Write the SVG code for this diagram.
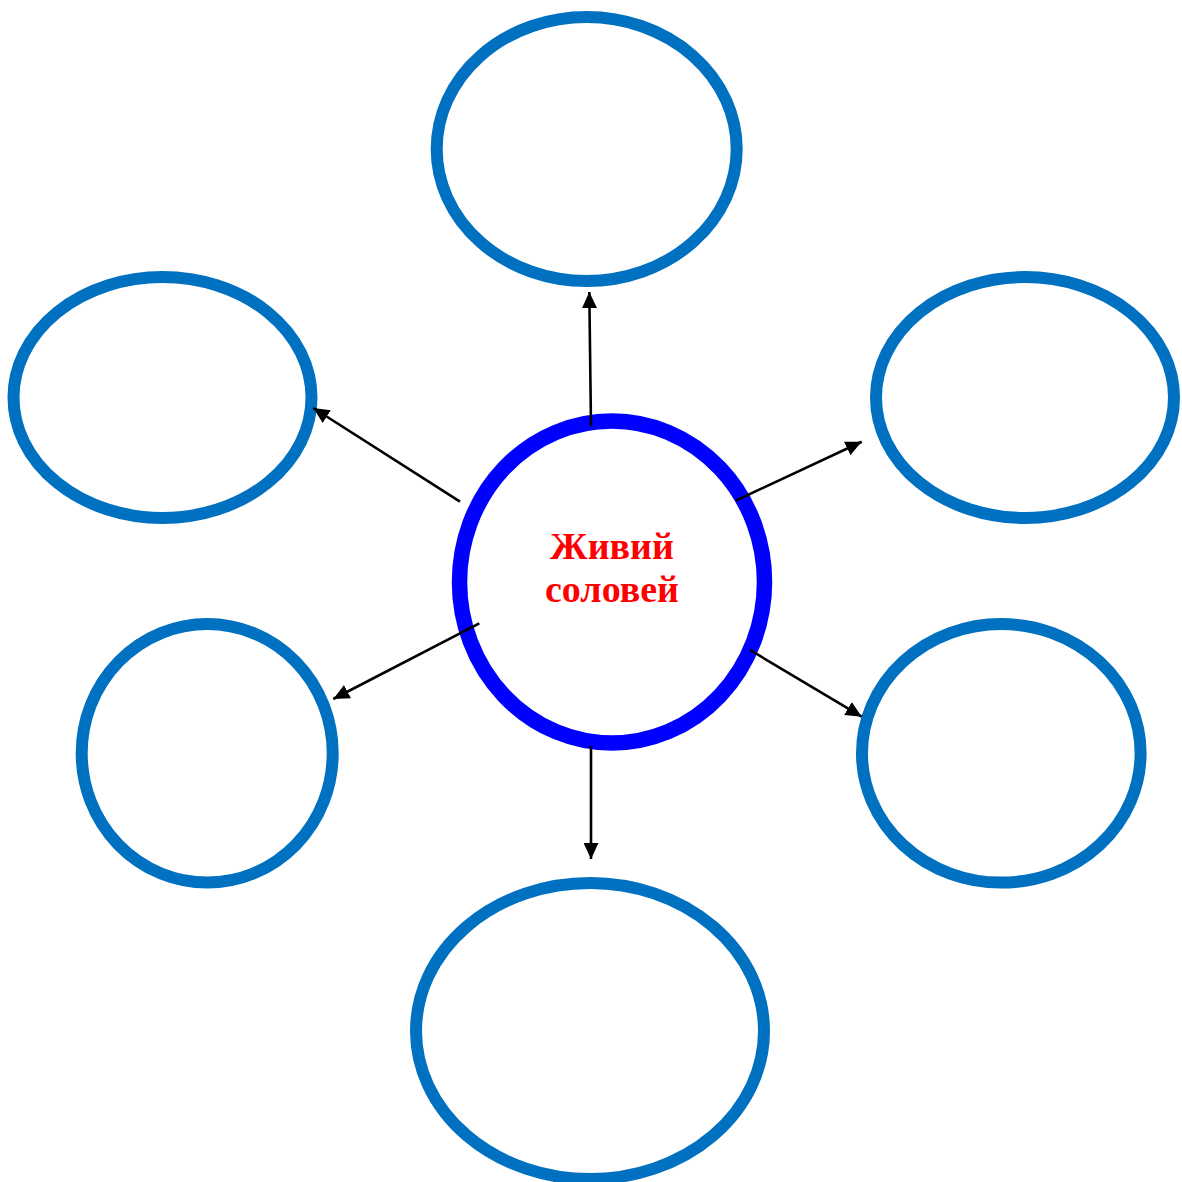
<svg xmlns="http://www.w3.org/2000/svg" width="1182" height="1182" viewBox="0 0 1182 1182">
<style>
.leaf{fill:#FFFFFF;stroke:#0070C0;stroke-width:12}
.hub{fill:#FFFFFF;stroke:#0000FF;stroke-width:15.5}
.conn{stroke:#000000;stroke-width:2.6;fill:none}
.lbl{font-family:"Liberation Serif","Times New Roman",serif;font-weight:bold;font-size:38px;fill:#FF0000;text-anchor:middle}
</style>
<defs>
<marker id="ah" markerUnits="userSpaceOnUse" markerWidth="16" markerHeight="15" viewBox="0 0 16 15" refX="16" refY="7.5" orient="auto">
<path d="M0,0 L16,7.5 L0,15 z" fill="#000000"/>
</marker>
</defs>
<rect width="1182" height="1182" fill="#FFFFFF"/>
<g id="node-top"><ellipse class="leaf" cx="586.7" cy="149" rx="150" ry="132"/></g>
<g id="node-left"><ellipse class="leaf" cx="162.5" cy="397.5" rx="149" ry="120.5"/></g>
<g id="node-right"><ellipse class="leaf" cx="1025" cy="397.5" rx="149" ry="120.5"/></g>
<g id="node-lower-left"><ellipse class="leaf" cx="207.2" cy="753.3" rx="125.5" ry="129.3"/></g>
<g id="node-lower-right"><ellipse class="leaf" cx="1001.3" cy="753.3" rx="139.3" ry="129.3"/></g>
<g id="node-bottom"><ellipse class="leaf" cx="590" cy="1031" rx="174" ry="148"/></g>
<g id="node-center">
<ellipse class="hub" cx="612" cy="582" rx="152.5" ry="161"/>
<text class="lbl" x="612" y="559">Живий</text>
<text class="lbl" x="612" y="602">соловей</text>
</g>
<g id="connectors">
<line class="conn" x1="591" y1="426" x2="589.3" y2="292" marker-end="url(#ah)"/>
<line class="conn" x1="460" y1="501.7" x2="313.3" y2="408" marker-end="url(#ah)"/>
<line class="conn" x1="736" y1="500.5" x2="861.7" y2="441.7" marker-end="url(#ah)"/>
<line class="conn" x1="479.3" y1="623.3" x2="333.3" y2="699" marker-end="url(#ah)"/>
<line class="conn" x1="750" y1="650" x2="861.7" y2="716.7" marker-end="url(#ah)"/>
<line class="conn" x1="591" y1="746" x2="591" y2="859" marker-end="url(#ah)"/>
</g>
</svg>
